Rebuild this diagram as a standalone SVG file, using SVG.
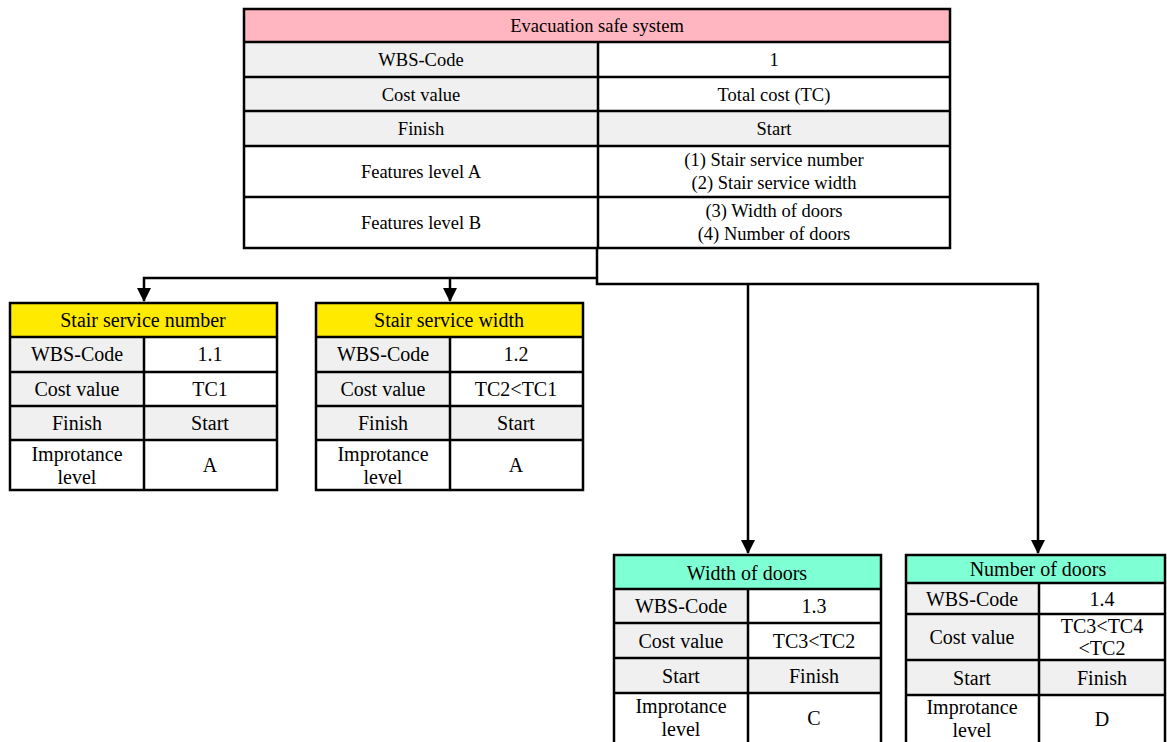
<svg xmlns="http://www.w3.org/2000/svg" width="1167" height="742" viewBox="0 0 1167 742">
<style>
.g{fill:#f0f0f0;}
.w{fill:#fff;}
.pk{fill:#ffb6c1;}
.yl{fill:#ffea00;}
.gr{fill:#7fffd4;}
.ln{stroke:#000;stroke-width:2.5;fill:none;}
.con{stroke:#000;stroke-width:2.5;fill:none;}
</style>
<defs>
<marker id="ah" markerUnits="userSpaceOnUse" markerWidth="16" markerHeight="14" refX="13" refY="7" orient="auto">
<path d="M0,0 L14,7 L0,14 Z" fill="#000"/>
</marker>
</defs>
<rect width="1167" height="742" fill="#fff"/>

<g id="connectors">
<path class="con" d="M597,248 V284 H1038 V553" marker-end="url(#ah)"/>
<path class="con" d="M748,284 V553" marker-end="url(#ah)"/>
<path class="con" d="M597,278 H144 V301" marker-end="url(#ah)"/>
<path class="con" d="M450,278 V301" marker-end="url(#ah)"/>
</g>

<g id="root">
<rect class="pk" x="244" y="9" width="706" height="33"/>
<rect class="g" x="244" y="42" width="354" height="35"/>
<rect class="w" x="598" y="42" width="352" height="35"/>
<rect class="g" x="244" y="77" width="354" height="34"/>
<rect class="w" x="598" y="77" width="352" height="34"/>
<rect class="g" x="244" y="111" width="706" height="35"/>
<rect class="w" x="244" y="146" width="706" height="102"/>
<path class="ln" d="M244,42 H950 M244,77 H950 M244,111 H950 M244,146 H950 M244,197 H950 M598,42 V248"/>
<rect class="ln" x="244" y="9" width="706" height="239"/>
<g font-family="Liberation Serif, Times New Roman, DejaVu Serif, serif" font-size="18.5" text-anchor="middle" fill="#000">
<text x="597" y="32">Evacuation safe system</text>
<text x="421" y="66">WBS-Code</text>
<text x="774" y="66">1</text>
<text x="421" y="101">Cost value</text>
<text x="774" y="101">Total cost (TC)</text>
<text x="421" y="135">Finish</text>
<text x="774" y="135">Start</text>
<text x="421" y="178">Features level A</text>
<text x="774" y="166">(1) Stair service number</text>
<text x="774" y="189">(2) Stair service width</text>
<text x="421" y="229">Features level B</text>
<text x="774" y="217">(3) Width of doors</text>
<text x="774" y="240">(4) Number of doors</text>
</g>
</g>

<g id="n11">
<rect class="yl" x="10" y="303" width="267" height="34"/>
<rect class="g" x="10" y="337" width="134" height="69"/>
<rect class="w" x="144" y="337" width="133" height="69"/>
<rect class="g" x="10" y="406" width="267" height="34"/>
<rect class="w" x="10" y="440" width="267" height="50"/>
<path class="ln" d="M10,337 H277 M10,372 H277 M10,406 H277 M10,440 H277 M144,337 V490"/>
<rect class="ln" x="10" y="303" width="267" height="187"/>
<g font-family="Liberation Serif, Times New Roman, DejaVu Serif, serif" font-size="20" text-anchor="middle" fill="#000">
<text x="143" y="327">Stair service number</text>
<text x="77" y="361">WBS-Code</text>
<text x="210" y="361">1.1</text>
<text x="77" y="396">Cost value</text>
<text x="210" y="396">TC1</text>
<text x="77" y="430">Finish</text>
<text x="210" y="430">Start</text>
<text x="77" y="461">Improtance</text>
<text x="77" y="484">level</text>
<text x="210" y="472">A</text>
</g>
</g>

<g id="n12">
<rect class="yl" x="316" y="303" width="267" height="34"/>
<rect class="g" x="316" y="337" width="134" height="69"/>
<rect class="w" x="450" y="337" width="133" height="69"/>
<rect class="g" x="316" y="406" width="267" height="34"/>
<rect class="w" x="316" y="440" width="267" height="50"/>
<path class="ln" d="M316,337 H583 M316,372 H583 M316,406 H583 M316,440 H583 M450,337 V490"/>
<rect class="ln" x="316" y="303" width="267" height="187"/>
<g font-family="Liberation Serif, Times New Roman, DejaVu Serif, serif" font-size="20" text-anchor="middle" fill="#000">
<text x="449" y="327">Stair service width</text>
<text x="383" y="361">WBS-Code</text>
<text x="516" y="361">1.2</text>
<text x="383" y="396">Cost value</text>
<text x="516" y="396">TC2&lt;TC1</text>
<text x="383" y="430">Finish</text>
<text x="516" y="430">Start</text>
<text x="383" y="461">Improtance</text>
<text x="383" y="484">level</text>
<text x="516" y="472">A</text>
</g>
</g>

<g id="n13">
<rect class="gr" x="614" y="555" width="267" height="34"/>
<rect class="g" x="614" y="589" width="134" height="69"/>
<rect class="w" x="748" y="589" width="133" height="69"/>
<rect class="g" x="614" y="658" width="267" height="35"/>
<rect class="w" x="614" y="693" width="267" height="52"/>
<path class="ln" d="M614,589 H881 M614,623 H881 M614,658 H881 M614,693 H881 M748,589 V745"/>
<rect class="ln" x="614" y="555" width="267" height="190"/>
<g font-family="Liberation Serif, Times New Roman, DejaVu Serif, serif" font-size="20" text-anchor="middle" fill="#000">
<text x="747" y="580">Width of doors</text>
<text x="681" y="613">WBS-Code</text>
<text x="814" y="613">1.3</text>
<text x="681" y="648">Cost value</text>
<text x="814" y="648">TC3&lt;TC2</text>
<text x="681" y="683">Start</text>
<text x="814" y="683">Finish</text>
<text x="681" y="713">Improtance</text>
<text x="681" y="736">level</text>
<text x="814" y="725">C</text>
</g>
</g>

<g id="n14">
<rect class="gr" x="906" y="555" width="259" height="28"/>
<rect class="g" x="906" y="583" width="133" height="77"/>
<rect class="w" x="1039" y="583" width="126" height="77"/>
<rect class="g" x="906" y="660" width="259" height="35"/>
<rect class="w" x="906" y="695" width="259" height="50"/>
<path class="ln" d="M906,583 H1165 M906,614 H1165 M906,660 H1165 M906,695 H1165 M1039,583 V745"/>
<rect class="ln" x="906" y="555" width="259" height="190"/>
<g font-family="Liberation Serif, Times New Roman, DejaVu Serif, serif" font-size="20" text-anchor="middle" fill="#000">
<text x="1038" y="576">Number of doors</text>
<text x="972" y="606">WBS-Code</text>
<text x="1102" y="606">1.4</text>
<text x="972" y="644">Cost value</text>
<text x="1102" y="633">TC3&lt;TC4</text>
<text x="1102" y="655">&lt;TC2</text>
<text x="972" y="685">Start</text>
<text x="1102" y="685">Finish</text>
<text x="972" y="714">Improtance</text>
<text x="972" y="737">level</text>
<text x="1102" y="726">D</text>
</g>
</g>
</svg>
